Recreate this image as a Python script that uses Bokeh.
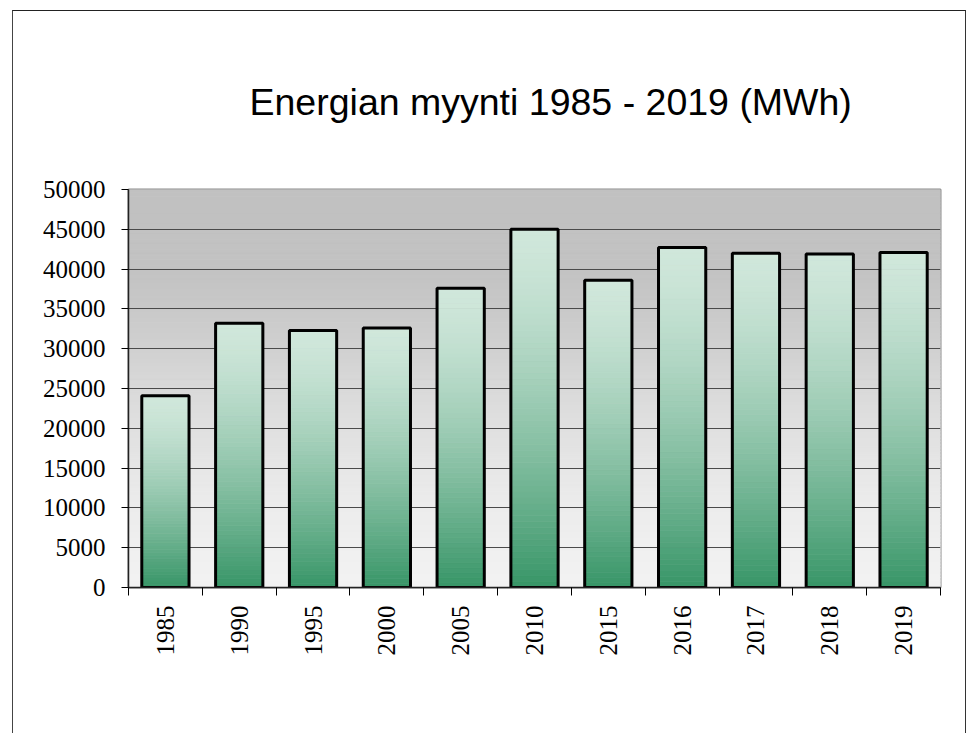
import math
import numpy as np
from bokeh.plotting import figure
from bokeh.models import FixedTicker, Range1d, ColumnDataSource
from bokeh.embed import file_html
from bokeh.resources import INLINE

# ---- data ----
categories = ["1985", "1990", "1995", "2000", "2005", "2010",
              "2015", "2016", "2017", "2018", "2019"]
values = [24100, 33200, 32300, 32600, 37600, 45000,
          38600, 42700, 42000, 41900, 42100]
y_ticks = [0, 5000, 10000, 15000, 20000, 25000, 30000, 35000, 40000, 45000, 50000]
title_text = "Energian myynti 1985 - 2019 (MWh)"

n = len(categories)
centers = [i + 0.5 for i in range(n)]
bounds = [float(i) for i in range(n + 1)]

p = figure(width=954, height=723, output_backend="svg", toolbar_location=None,
           x_range=Range1d(0, n), y_range=Range1d(0, y_ticks[-1]),
           title=title_text, min_border_left=115, min_border_right=27,
           min_border_top=178, min_border_bottom=147)
p.margin = (10, 0, 0, 12)
p.styles = {"border-top": "1px solid #222", "border-left": "1px solid #444",
            "border-right": "1px solid #333"}
p.background_fill_color = "white"
p.border_fill_color = "white"
p.outline_line_color = "#8c8c8c"
p.outline_line_width = 2

# title
p.title.align = "left"
p.title.text_font = "Liberation Sans"
p.title.text_font_size = "37.5px"
p.title.text_font_style = "normal"
p.title.text_color = "black"
p.title.offset = 121
p.title.standoff = 134

# background gradient (styling strips)
NB = 120
edges = np.linspace(0, y_ticks[-1], NB + 1)
tb = 1 - (edges[:-1] + edges[1:]) / 2 / y_ticks[-1]
gvals = np.interp(tb, [0, 0.2, 0.3, 0.53, 0.78, 1.0], [193, 195, 201, 220, 236, 243])
bg_cols = ["#%02x%02x%02x" % (int(g), int(g), int(g)) for g in gvals]
bg = p.quad(left=0, right=n, bottom=edges[:-1], top=edges[1:],
            fill_color=bg_cols, line_color=bg_cols, line_width=1)
bg.level = "image"

# bars with vertical gradient
NS = 60
light = np.array([208, 231, 219])
dark = np.array([55, 149, 103])
L, R, B, T, C = [], [], [], [], []
bw = 0.64
for xc, v in zip(centers, values):
    for k in range(NS):
        y0 = v * k / NS
        y1 = v * (k + 1) / NS
        t = 1 - (k + 0.5) / NS  # 0 top, 1 bottom
        f = t ** 1.45
        col = light + (dark - light) * f
        L.append(xc - bw / 2); R.append(xc + bw / 2)
        B.append(y0); T.append(y1)
        C.append("#%02x%02x%02x" % tuple(int(round(c)) for c in col))
p.quad(left=L, right=R, bottom=B, top=T, fill_color=C, line_color=C, line_width=0.8)

src = ColumnDataSource(dict(x=centers, top=values))
p.vbar(x="x", top="top", width=bw, bottom=0, source=src,
       fill_color=None, line_color="black", line_width=3)

# grid
p.xgrid.visible = False
p.ygrid.ticker = FixedTicker(ticks=y_ticks)
p.ygrid.grid_line_color = "#4a4a4a"
p.ygrid.grid_line_width = 1

# y axis
yax = p.yaxis[0]
yax.ticker = FixedTicker(ticks=y_ticks)
yax.axis_line_color = "#222222"
yax.axis_line_width = 1.5
yax.major_tick_out = 7
yax.major_tick_in = 0
yax.major_tick_line_color = "black"
yax.minor_tick_line_color = None
yax.major_label_standoff = 16
yax.major_label_text_font = "Liberation Serif"
yax.major_label_text_font_size = "25px"
yax.major_label_text_color = "black"

# x axis: labels at centres, ticks at boundaries
xax = p.xaxis[0]
xax.ticker = FixedTicker(ticks=centers, minor_ticks=bounds)
xax.major_label_overrides = {c: lab for c, lab in zip(centers, categories)}
xax.major_tick_line_color = None
xax.major_tick_out = 0
xax.major_tick_in = 0
xax.minor_tick_line_color = "black"
xax.minor_tick_out = 8
xax.minor_tick_in = 0
xax.axis_line_color = "#222222"
xax.axis_line_width = 1.5
xax.major_label_orientation = math.pi / 2
xax.major_label_standoff = 10
xax.major_label_text_font = "Liberation Serif"
xax.major_label_text_font_size = "25px"
xax.major_label_text_color = "black"

open("out.html", "w").write(file_html(p, INLINE))
